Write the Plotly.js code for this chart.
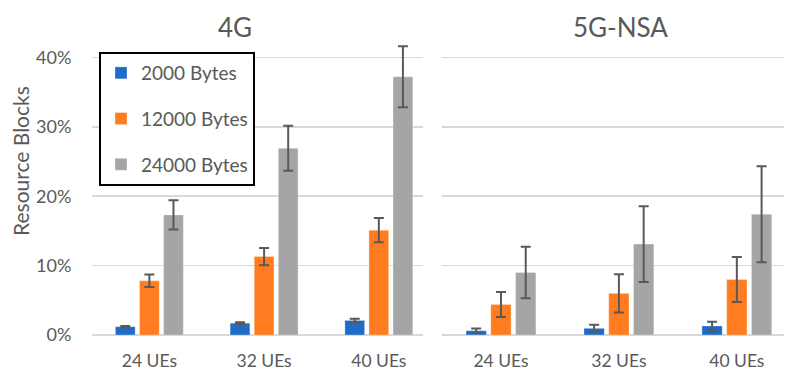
<!DOCTYPE html>
<html>
<head>
<meta charset="utf-8">
<script src="https://cdn.plot.ly/plotly-3.0.1.min.js"></script>
<style>html,body{margin:0;padding:0;background:#fff;}#chart{width:785px;height:372px;}</style>
</head>
<body>
<div id="chart"></div>
<script>
const categories = ["24 UEs", "32 UEs", "40 UEs"];
const seriesNames = ["2000 Bytes", "12000 Bytes", "24000 Bytes"];
const panelTitles = ["4G", "5G-NSA"];
const yAxisTitle = "Resource Blocks";
const yTickVals = [0, 0.1, 0.2, 0.3, 0.4];
const yTickText = ["0%", "10%", "20%", "30%", "40%"];

// 4G
const lte2000 = [0.012, 0.017, 0.021];
const lte2000Err = [0.001, 0.0015, 0.0025];
const lte12000 = [0.078, 0.113, 0.151];
const lte12000Err = [0.009, 0.0125, 0.0175];
const lte24000 = [0.173, 0.269, 0.372];
const lte24000Err = [0.021, 0.0325, 0.044];

// 5G-NSA
const nsa2000 = [0.0062, 0.0096, 0.013];
const nsa2000Err = [0.003, 0.005, 0.006];
const nsa12000 = [0.044, 0.060, 0.080];
const nsa12000Err = [0.018, 0.0275, 0.0325];
const nsa24000 = [0.090, 0.131, 0.174];
const nsa24000Err = [0.037, 0.0545, 0.069];

const colors = ["#1F6BC7", "#FF7D20", "#A5A5A5"];
const errColor = "#595959";
const font = "Lato, 'Open Sans', sans-serif";
const textColor = "#595959";

function bar(y, err, i, xa, ya, show) {
  return {
    type: "bar", x: categories, y: y, name: seriesNames[i],
    xaxis: xa, yaxis: ya, showlegend: show, legendgroup: "g" + i,
    marker: {color: colors[i], line: {color: "rgba(255,255,255,0.6)", width: 0.5}},
    error_y: {type: "data", array: err, visible: true, color: errColor, thickness: 2, width: 5},
    hoverinfo: "skip"
  };
}

const data = [
  bar(lte2000, lte2000Err, 0, "x", "y", true),
  bar(lte12000, lte12000Err, 1, "x", "y", true),
  bar(lte24000, lte24000Err, 2, "x", "y", true),
  bar(nsa2000, nsa2000Err, 0, "x2", "y2", false),
  bar(nsa12000, nsa12000Err, 1, "x2", "y2", false),
  bar(nsa24000, nsa24000Err, 2, "x2", "y2", false)
];

const yBase = {
  range: [0, 0.42], domain: [1 - 335/372, 1 - 43.5/372],
  tickvals: yTickVals, ticktext: yTickText,
  showgrid: true, gridcolor: "#D9D9D9", gridwidth: 1.5,
  zeroline: true, zerolinecolor: "#D9D9D9", zerolinewidth: 1.5,
  showline: false, fixedrange: true,
  tickfont: {family: font, size: 18, color: textColor}
};
const xBase = {
  type: "category", showgrid: false, zeroline: false, showline: false,
  ticks: "outside", ticklen: 10, tickcolor: "rgba(0,0,0,0)",
  tickfont: {family: font, size: 17.5, color: textColor}, fixedrange: true
};

const layout = {
  width: 785, height: 372,
  margin: {l: 0, r: 0, t: 0, b: 0},
  paper_bgcolor: "#fff", plot_bgcolor: "#fff",
  barmode: "group", bargap: 0.37, bargroupgap: 0.18,
  font: {family: font, color: textColor},
  xaxis: Object.assign({}, xBase, {domain: [92/785, 423/785], range: [-0.5, 2.385], anchor: "y"}),
  xaxis2: Object.assign({}, xBase, {domain: [442/785, 784/785], range: [-0.5, 2.4], anchor: "y2"}),
  yaxis: Object.assign({}, yBase, {
    anchor: "x", ticks: "outside", ticklen: 16, tickcolor: "rgba(0,0,0,0)"
  }),
  yaxis2: Object.assign({}, yBase, {anchor: "x2", showticklabels: false}),
  legend: {
    x: 99/785, y: 1 - 52/372, xanchor: "left", yanchor: "top",
    bgcolor: "#fff", bordercolor: "#000", borderwidth: 2,
    font: {family: font, size: 19, color: textColor},
    traceorder: "grouped", tracegroupgap: 18
  },
  annotations: [
    {text: panelTitles[0], x: 235/785, y: 1 - 27/372, xref: "paper", yref: "paper",
     xanchor: "center", yanchor: "middle", showarrow: false, font: {family: font, size: 26, color: textColor}},
    {text: panelTitles[1], x: 620/785, y: 1 - 27/372, xref: "paper", yref: "paper",
     xanchor: "center", yanchor: "middle", showarrow: false, font: {family: font, size: 26, color: textColor}},
    {text: yAxisTitle, x: 20/785, y: 1 - 161/372, xref: "paper", yref: "paper", textangle: -90,
     xanchor: "center", yanchor: "middle", showarrow: false, font: {family: font, size: 21, color: textColor}}
  ]
};

Plotly.newPlot("chart", data, layout, {displayModeBar: false, staticPlot: true});
</script>
</body>
</html>
